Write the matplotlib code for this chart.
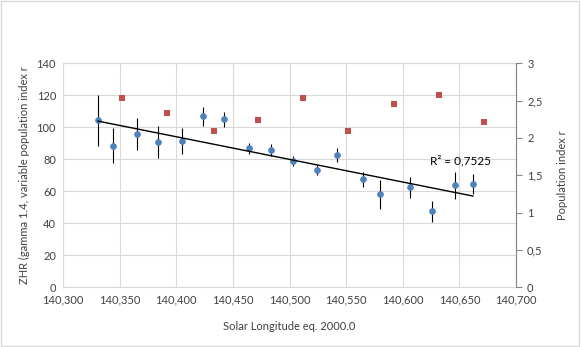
import matplotlib
matplotlib.use("Agg")
import matplotlib.pyplot as plt
import numpy as np
from matplotlib.ticker import FuncFormatter, MultipleLocator

plt.rcParams['font.family'] = ['Lato', 'DejaVu Sans']

# ZHR data (left axis)
sol_zhr = [140.331, 140.344, 140.365, 140.384, 140.405, 140.424, 140.442, 140.464,
           140.484, 140.503, 140.524, 140.542, 140.565, 140.580, 140.606, 140.626,
           140.646, 140.662]
zhr = [104.4, 88.5, 95.6, 90.6, 91.4, 107.0, 105.0, 86.9, 85.6, 78.9, 73.3, 82.5,
       67.5, 58.1, 62.5, 47.5, 63.7, 64.6]
zhr_err = [16.0, 11.0, 10.0, 10.0, 8.0, 6.0, 4.5, 3.6, 3.7, 3.0, 3.0, 4.4, 4.8, 9.0,
           6.7, 6.4, 8.3, 6.4]

# Population index (right axis)
sol_r = [140.352, 140.392, 140.433, 140.4725, 140.512, 140.552, 140.592, 140.632, 140.672]
r_vals = [2.53, 2.33, 2.09, 2.24, 2.53, 2.09, 2.45, 2.58, 2.21]

r2_text = "R² = 0,7525"
xlabel = "Solar Longitude eq. 2000.0"
ylabel_left = "ZHR (gamma 1.4, variable population index r"
ylabel_right = "Population index r"

fig = plt.figure(figsize=(5.81, 3.47), dpi=100)
ax = fig.add_axes([63/581, 1-287.3/347, (516-63)/581, (287.3-63.3)/347])
ax2 = ax.twinx()

grid_c = '#d9d9d9'
txt_c = '#404040'

ax.set_xlim(140.3, 140.7)
ax.set_ylim(0, 140)
ax.xaxis.set_major_locator(MultipleLocator(0.05))
ax.yaxis.set_major_locator(MultipleLocator(20))
ax.grid(True, color=grid_c, lw=0.8)
ax.set_axisbelow(True)
ax.xaxis.set_major_formatter(FuncFormatter(lambda v, p: f"{v*1000:,.0f}"))
for s in ax.spines.values():
    s.set_color(grid_c)
    s.set_linewidth(0.8)
ax.tick_params(axis='both', length=0, labelsize=8, colors=txt_c, pad=5)

ax.errorbar(sol_zhr, zhr, yerr=zhr_err, fmt='o', color='#4F81BD', ms=3.8,
            ecolor='black', elinewidth=0.8, capsize=0, zorder=3)

coef = np.polyfit(sol_zhr, zhr, 1)
xs = np.array([min(sol_zhr), max(sol_zhr)])
ax.plot(xs, np.polyval(coef, xs), color='black', lw=1.0, zorder=4)
ax.text(140.6245, 79, r2_text, fontsize=8.5, color='black', ha='left', va='center')

ax2.set_ylim(0, 3)
ax2.yaxis.set_major_locator(MultipleLocator(0.5))
ax2.yaxis.set_major_formatter(FuncFormatter(lambda v, p: f"{v:g}".replace('.', ',')))
ax2.scatter(sol_r, r_vals, marker='s', s=20, color='#C0504D', zorder=3, linewidths=0)
for k, s in ax2.spines.items():
    s.set_visible(k == 'right')
ax2.spines['right'].set_color('#868686')
ax2.spines['right'].set_linewidth(0.8)
ax2.tick_params(axis='y', length=4, width=0.8, labelsize=8, pad=4)
ax2.tick_params(axis='y', colors='#868686', labelcolor=txt_c)

ax.set_xlabel(xlabel, fontsize=8, color=txt_c, labelpad=11)
ax.set_ylabel(ylabel_left, fontsize=8, color=txt_c, labelpad=5)
ax2.set_ylabel(ylabel_right, fontsize=8, color=txt_c, labelpad=10)

fig.patches.append(plt.Rectangle((0.002, 0.003), 0.995, 0.994, transform=fig.transFigure,
                                 fill=False, edgecolor='#d9d9d9', lw=1))

fig.savefig('out.png', dpi=100)
